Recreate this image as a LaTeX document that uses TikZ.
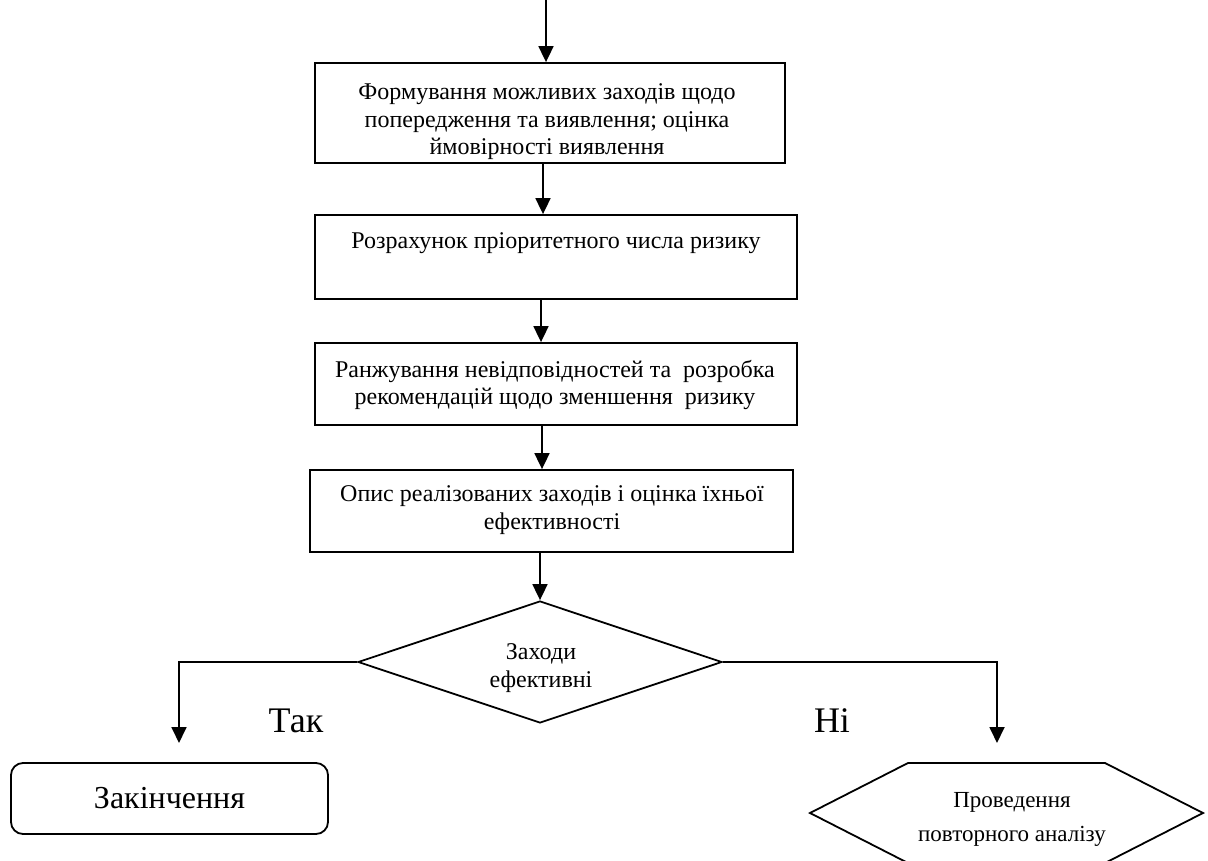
\documentclass[tikz,border=0pt]{standalone}
\usepackage{fontspec}
\setmainfont{Liberation Serif}
\usetikzlibrary{arrows.meta,shapes.geometric}
\begin{document}
\begin{tikzpicture}[x=1pt,y=-1pt,
  line width=1.8pt,
  box/.style={draw,rectangle,inner sep=0pt,line width=1.8pt},
  txt/.style={align=center,inner sep=0pt,font=\fontsize{24}{27.6}\selectfont},
  arr/.style={-{Triangle[width=15pt,length=16pt]},line width=1.8pt}]
\useasboundingbox (0,0) rectangle (1208,861);
% boxes
\node[box,minimum width=470,minimum height=100] (b1) at (550,113) {};
\node[txt] (t1) at (547,122) {Формування можливих заходів щодо\\попередження та виявлення; оцінка\\ймовірності виявлення};
\node[box,minimum width=482,minimum height=84] (b2) at (556,257) {};
\node[txt,anchor=base] (t2) at (556,249) {Розрахунок пріоритетного числа ризику};
\node[box,minimum width=482,minimum height=82] (b3) at (556,384) {};
\node[txt] (t3) at (555,385) {Ранжування невідповідностей та\ \ розробка\\рекомендацій щодо зменшення\ \ ризику};
\node[box,minimum width=483,minimum height=82] (b4) at (551.5,511) {};
\node[txt] (t4) at (552,510) {Опис реалізованих заходів і оцінка їхньої\\ефективності};
% decision
\node[draw,diamond,inner sep=0pt,minimum width=364,minimum height=122,line width=1.8pt] (dia) at (540,662) {};
\node[txt,font=\fontsize{24}{28}\selectfont] (td) at (541,668) {Заходи\\ефективні};
% end
\node[draw,rounded corners=12pt,minimum width=317,minimum height=71,inner sep=0pt,line width=1.8pt,font=\fontsize{32}{36}\selectfont] (end) at (169.5,798.5) {Закінчення};
% hexagon
\draw[line width=1.8pt] (810,813) -- (908,763) -- (1105,763) -- (1203,813) -- (1105,863) -- (908,863) -- cycle;
\node[txt,font=\fontsize{23}{34}\selectfont] (hex) at (1012,819.5) {Проведення\\повторного аналізу};
% labels
\node[inner sep=0pt,anchor=base,font=\fontsize{36}{40}\selectfont] (yes) at (296,732) {Так};
\node[inner sep=0pt,anchor=base,font=\fontsize{36}{40}\selectfont] (no) at (832,732) {Ні};
% coordinates
\coordinate (top) at (546,0);
\coordinate (yesend) at (179,743);
\coordinate (noend) at (997,743);
% connectors
\draw[arr] (top) -- (top |- b1.north);
\draw[arr] ([xshift=-7pt]b1.south) -- ([xshift=-7pt]b1.south |- b2.north);
\draw[arr] ([xshift=-15pt]b2.south) -- ([xshift=-15pt]b2.south |- b3.north);
\draw[arr] ([xshift=-14pt]b3.south) -- ([xshift=-14pt]b3.south |- b4.north);
\draw[arr] (dia.north |- b4.south) -- (dia.north);
\draw[arr] (dia.west) -| (yesend);
\draw[arr] (dia.east) -| (noend);
\end{tikzpicture}
\end{document}
